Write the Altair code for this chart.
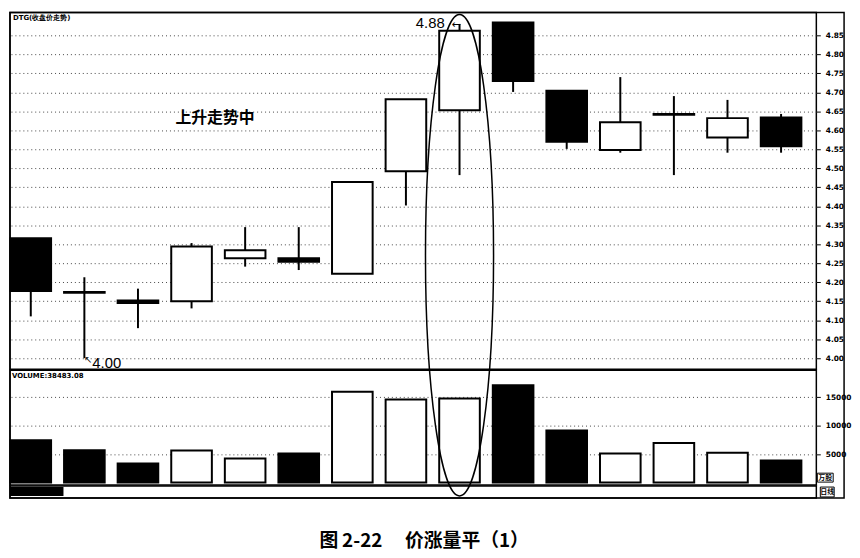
import altair as alt
import pandas as pd

# ---- data ----
candle_idx = list(range(15))
opens  = [4.316, 4.174, 4.152, 4.150, 4.263, 4.263, 4.222, 4.492, 4.653, 4.884, 4.704, 4.548, 4.641, 4.581, 4.634]
closes = [4.177, 4.172, 4.145, 4.294, 4.284, 4.254, 4.464, 4.682, 4.862, 4.730, 4.570, 4.621, 4.643, 4.632, 4.558]
highs  = [4.316, 4.213, 4.183, 4.303, 4.345, 4.345, 4.464, 4.682, 4.880, 4.884, 4.704, 4.740, 4.690, 4.680, 4.643]
lows   = [4.110, 4.000, 4.079, 4.131, 4.241, 4.232, 4.222, 4.402, 4.482, 4.701, 4.551, 4.541, 4.482, 4.541, 4.541]
volumes = [7440, 5700, 3360, 5630, 4230, 5100, 15980, 14630, 14800, 17130, 9180, 5100, 6970, 5230, 3890]

price_ticks = [4.00, 4.05, 4.10, 4.15, 4.20, 4.25, 4.30, 4.35, 4.40, 4.45,
               4.50, 4.55, 4.60, 4.65, 4.70, 4.75, 4.80, 4.85]
volume_ticks = [5000, 10000, 15000]

caption = "图\u20092-22\u2003\u2009价涨量平（1）"
trend_label = "上升走势中"
high_label = "4.88"
low_label = "4.00"
price_title = "DTG(收盘价走势)"
volume_title = "VOLUME:38483.08"
unit_label = "万股"
period_label = "日线"

df = pd.DataFrame({"i": candle_idx, "open": opens, "close": closes,
                   "high": highs, "low": lows, "vol": volumes})
df["dir"] = ["up" if c >= o else "down" for o, c in zip(opens, closes)]
one = pd.DataFrame({"k": [0]})
hi_pt = df.iloc[[8]].copy()
lo_pt = df[df["low"] == min(lows)].head(1).copy()

W = 814
H_PRICE = 360
H_VOL = 116
H_STRIP = 12

xscale = alt.Scale(domain=[-0.388, 14.658], nice=False, zero=False, padding=0)
X = alt.X("i:Q", scale=xscale, axis=None)
fill_scale = alt.Scale(domain=["up", "down"], range=["white", "black"])

grid_kw = dict(grid=True, gridDash=[1, 3], gridColor="#333", gridOpacity=0.9,
               domain=False, tickColor="black", tickSize=4, labelPadding=5,
               labelFont="DejaVu Sans", labelFontWeight="bold", labelFontSize=7.5,
               labelColor="black", title=None, orient="right", labelOverlap=False)

pscale = alt.Scale(domain=[3.971, 4.910], nice=False, zero=False, padding=0)
PAXIS = alt.Axis(values=price_ticks, format=".2f", **grid_kw)
base = alt.Chart(df)

wicks = base.mark_rule(strokeWidth=2, color="black").encode(
    x=X,
    y=alt.Y("low:Q", scale=pscale, axis=PAXIS),
    y2="high:Q",
)
bodies = base.mark_bar(size=41, stroke="black", strokeWidth=2).encode(
    x=X,
    y=alt.Y("open:Q", scale=pscale, axis=PAXIS),
    y2="close:Q",
    fill=alt.Fill("dir:N", scale=fill_scale, legend=None),
)
hi_text = alt.Chart(hi_pt).mark_text(
    align="right", baseline="middle", dx=-15, dy=-1, fontSize=15,
    font="Liberation Sans", color="black"
).encode(x=X, y=alt.Y("high:Q", scale=pscale, axis=PAXIS), text=alt.value(high_label))
hi_arrow = alt.Chart(hi_pt).mark_text(
    align="right", baseline="middle", dx=1, dy=1, fontSize=11,
    font="DejaVu Sans", color="black"
).encode(x=X, y=alt.Y("high:Q", scale=pscale, axis=PAXIS), text=alt.value("←"))
lo_text = alt.Chart(lo_pt).mark_text(
    align="left", baseline="middle", dx=8, dy=5, fontSize=15,
    font="Liberation Sans", color="black"
).encode(x=X, y=alt.Y("low:Q", scale=pscale, axis=PAXIS), text=alt.value(low_label))
lo_arrow = alt.Chart(lo_pt).mark_text(
    align="left", baseline="middle", dx=0, dy=2, fontSize=10,
    font="DejaVu Sans", color="black"
).encode(x=X, y=alt.Y("low:Q", scale=pscale, axis=PAXIS), text=alt.value("↖"))
trend = alt.Chart(one).mark_text(
    align="left", baseline="middle", fontSize=16, fontWeight="bold",
    font="Noto Sans CJK SC", color="black"
).encode(x=alt.value(167), y=alt.value(107), text=alt.value(trend_label))
ptitle = alt.Chart(one).mark_text(
    align="left", baseline="top", fontSize=7, fontWeight="bold",
    font="DejaVu Sans", color="black"
).encode(x=alt.value(3), y=alt.value(2), text=alt.value(price_title))

price = alt.layer(wicks, bodies, hi_text, hi_arrow, lo_text, lo_arrow, trend, ptitle).properties(
    width=W, height=H_PRICE)

vscale = alt.Scale(domain=[-435, 19774], nice=False, zero=False, padding=0)
vbars = base.mark_bar(size=41, stroke="black", strokeWidth=2).encode(
    x=X,
    y=alt.Y("vol:Q", scale=vscale, axis=alt.Axis(values=volume_ticks, format="d", **grid_kw)),
    y2=alt.datum(0),
    fill=alt.Fill("dir:N", scale=fill_scale, legend=None),
)
vtitle = alt.Chart(one).mark_text(
    align="left", baseline="top", fontSize=7, fontWeight="bold",
    font="DejaVu Sans", color="black"
).encode(x=alt.value(2), y=alt.value(2), text=alt.value(volume_title))
unit_box = alt.Chart(one).mark_rect(fill="white", stroke="black", strokeWidth=1).encode(
    x=alt.value(815), x2=alt.value(831), y=alt.value(104), y2=alt.value(113))
unit_txt = alt.Chart(one).mark_text(
    align="center", baseline="middle", fontSize=7, fontWeight="bold",
    font="Noto Sans CJK SC", color="black"
).encode(x=alt.value(823), y=alt.value(108.5), text=alt.value(unit_label))
volume = alt.layer(vbars, vtitle, unit_box, unit_txt).properties(width=W, height=H_VOL)

strip_rect = alt.Chart(one).mark_rect(fill="black").encode(
    x=alt.value(0), x2=alt.value(54), y=alt.value(1), y2=alt.value(10))
per_box = alt.Chart(one).mark_rect(fill="white", stroke="black", strokeWidth=1).encode(
    x=alt.value(818), x2=alt.value(832), y=alt.value(1), y2=alt.value(11))
per_txt = alt.Chart(one).mark_text(
    align="center", baseline="middle", fontSize=7, fontWeight="bold",
    font="Noto Sans CJK SC", color="black"
).encode(x=alt.value(825), y=alt.value(6), text=alt.value(period_label))
# outer frame and the ellipse drawn last (from the bottom strip) so they sit on top
frame = alt.Chart(one).mark_rect(fillOpacity=0, stroke="black", strokeWidth=1.5).encode(
    x=alt.value(0), x2=alt.value(842), y=alt.value(-478), y2=alt.value(12))
ELLIPSE = ("M 0 -1 C 0.0781 -1 0.1414 -0.5523 0.1414 0 "
           "C 0.1414 0.5523 0.0781 1 0 1 "
           "C -0.0781 1 -0.1414 0.5523 -0.1414 0 "
           "C -0.1414 -0.5523 -0.0781 -1 0 -1 Z")
ellipse = alt.Chart(hi_pt).mark_point(
    shape=ELLIPSE, size=236196, filled=False, stroke="black", strokeWidth=1.5, opacity=1
).encode(x=X, y=alt.value(-233))
strip = alt.layer(strip_rect, per_box, per_txt, frame, ellipse).properties(width=W, height=H_STRIP)

chart = alt.vconcat(price, volume, strip, spacing=1, bounds="flush").properties(
    padding={"left": 0, "top": 0, "right": 0, "bottom": 0},
    title=alt.TitleParams(caption, orient="bottom", anchor="start", offset=33,
                          fontSize=19, fontWeight="bold", font="Noto Sans CJK SC",
                          color="black", dx=314),
).configure_view(stroke="black", strokeWidth=1.5).configure_concat(spacing=1)

chart.save("out.html", embed_options={"renderer": "svg", "actions": False})
